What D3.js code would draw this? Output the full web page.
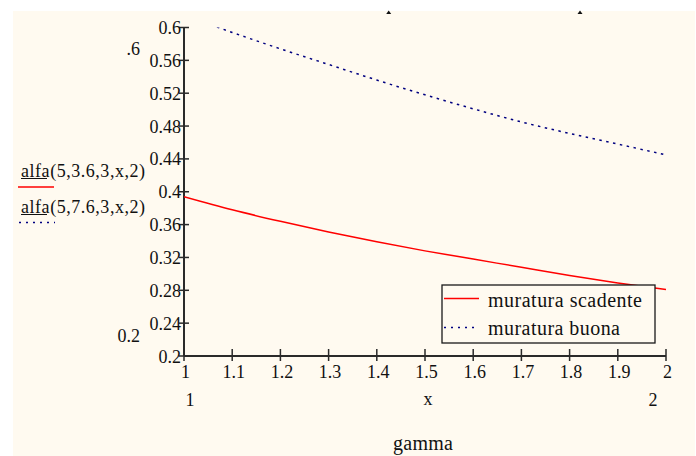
<!DOCTYPE html>
<html>
<head>
<meta charset="utf-8">
<script src="https://cdn.jsdelivr.net/npm/d3@7"></script>
<style>
  html, body { margin: 0; padding: 0; background: #ffffff; }
  svg { display: block; }
  text { font-family: "Liberation Serif", "Times New Roman", serif; fill: #111; }
</style>
</head>
<body>
<svg id="chart" width="696" height="456"></svg>
<script>
// ---- data ----
const gamma = [1.0, 1.1, 1.2, 1.3, 1.4, 1.5, 1.6, 1.7, 1.8, 1.9, 2.0];
const scadente = [0.394, 0.378, 0.364, 0.351, 0.339, 0.328, 0.318, 0.308, 0.298, 0.289, 0.281]; // alfa(5,3.6,3,x,2)
const buona    = [0.615, 0.594, 0.574, 0.555, 0.536, 0.518, 0.501, 0.485, 0.471, 0.458, 0.445]; // alfa(5,7.6,3,x,2)
const xTicks = [1, 1.1, 1.2, 1.3, 1.4, 1.5, 1.6, 1.7, 1.8, 1.9, 2];
const xTickLabels = ["1", "1.1", "1.2", "1.3", "1.4", "1.5", "1.6", "1.7", "1.8", "1.9", "2"];
const yTicks = [0.2, 0.24, 0.28, 0.32, 0.36, 0.4, 0.44, 0.48, 0.52, 0.56, 0.6];
const yTickLabels = ["0.2", "0.24", "0.28", "0.32", "0.36", "0.4", "0.44", "0.48", "0.52", "0.56", "0.6"];
const seriesNames = ["muratura scadente", "muratura buona"];
const traceNames = ["alfa(5,3.6,3,x,2)", "alfa(5,7.6,3,x,2)"];

const svg = d3.select("#chart");

// cream background
svg.append("rect").attr("x", 13).attr("y", 11).attr("width", 682).attr("height", 445)
  .attr("fill", "#fffaf0");

const x = d3.scaleLinear().domain([1, 2]).range([184, 666]);
const y = d3.scaleLinear().domain([0.2, 0.6]).range([356, 27.5]);

// clip
svg.append("clipPath").attr("id", "plotclip").append("rect")
  .attr("x", x(1)).attr("y", y(0.6)).attr("width", x(2) - x(1)).attr("height", y(0.2) - y(0.6));

// axes
const axisCol = "#2a2a2a";
// y axis
const yAx = svg.append("g").attr("transform", `translate(${x(1)},0)`);
yAx.append("line").attr("y1", y(0.6)).attr("y2", y(0.2)).attr("stroke", axisCol).attr("stroke-width", 2);
yAx.selectAll("line.t").data(yTicks).enter().append("line").attr("class", "t")
  .attr("x1", -5).attr("x2", 5).attr("y1", d => y(d)).attr("y2", d => y(d))
  .attr("stroke", axisCol).attr("stroke-width", 1.5);
yAx.selectAll("text").data(yTicks).enter().append("text")
  .attr("x", -3).attr("y", d => y(d) + 6.5)
  .attr("text-anchor", "end").attr("font-size", 18)
  .text((d, i) => yTickLabels[i]);

// x axis
const xAx = svg.append("g").attr("transform", `translate(0,${y(0.2)})`);
xAx.append("line").attr("x1", x(1)).attr("x2", x(2)).attr("stroke", axisCol).attr("stroke-width", 2);
xAx.selectAll("line.t").data(xTicks).enter().append("line").attr("class", "t")
  .attr("x1", d => x(d)).attr("x2", d => x(d)).attr("y1", -7).attr("y2", 5)
  .attr("stroke", axisCol).attr("stroke-width", 1.5);
xAx.selectAll("text").data(xTicks).enter().append("text")
  .attr("x", d => x(d) + 1.5).attr("y", 22)
  .attr("text-anchor", "middle").attr("font-size", 18)
  .text((d, i) => xTickLabels[i]);

// curves
const line = d3.line().x(d => x(d[0])).y(d => y(d[1])).curve(d3.curveMonotoneX);
const plot = svg.append("g").attr("clip-path", "url(#plotclip)");
plot.append("path").datum(gamma.map((g, i) => [g, scadente[i]]))
  .attr("d", line).attr("fill", "none").attr("stroke", "#ff0000").attr("stroke-width", 1.5);
plot.append("path").datum(gamma.map((g, i) => [g, buona[i]]))
  .attr("d", line).attr("fill", "none").attr("stroke", "#000080").attr("stroke-width", 1.5)
  .attr("stroke-dasharray", "2.5,4.5");

// range / axis annotations
svg.append("text").attr("x", 140).attr("y", 55).attr("text-anchor", "end").attr("font-size", 18).text(".6");
svg.append("text").attr("x", 140).attr("y", 342).attr("text-anchor", "end").attr("font-size", 18).text("0.2");
svg.append("text").attr("x", 190).attr("y", 406).attr("text-anchor", "middle").attr("font-size", 18).text("1");
svg.append("text").attr("x", 653).attr("y", 406).attr("text-anchor", "middle").attr("font-size", 18).text("2");
svg.append("text").attr("x", 428).attr("y", 405).attr("text-anchor", "middle").attr("font-size", 18).text("x");
svg.append("text").attr("x", 423).attr("y", 450).attr("text-anchor", "middle").attr("font-size", 20)
  .attr("textLength", 60).attr("lengthAdjust", "spacing").text("gamma");

// left trace labels
const traceY = [177, 213];
traceNames.forEach((t, i) => {
  svg.append("text").attr("x", 21).attr("y", traceY[i]).attr("font-size", 18)
    .attr("textLength", 124).attr("lengthAdjust", "spacing").text(t);
  svg.append("line").attr("x1", 21).attr("x2", 47).attr("y1", traceY[i] + 1.5).attr("y2", traceY[i] + 1.5)
    .attr("stroke", "#111").attr("stroke-width", 1);
});
svg.append("line").attr("x1", 18).attr("x2", 54).attr("y1", 187).attr("y2", 187)
  .attr("stroke", "#ff0000").attr("stroke-width", 1.5);
svg.append("line").attr("x1", 19).attr("x2", 55).attr("y1", 222.5).attr("y2", 222.5)
  .attr("stroke", "#000080").attr("stroke-width", 1.5).attr("stroke-dasharray", "2,5");

// top markers
[388.7, 580].forEach(px => {
  svg.append("path").attr("d", `M${px - 2.5},14 L${px + 2.5},14 L${px},10.5 Z`).attr("fill", "#111");
});

// legend box
const lg = svg.append("g");
lg.append("rect").attr("x", 442).attr("y", 285).attr("width", 213).attr("height", 58)
  .attr("fill", "#fffaf0").attr("stroke", "#1a1a1a").attr("stroke-width", 1.3);
lg.append("line").attr("x1", 444).attr("x2", 479).attr("y1", 298.5).attr("y2", 298.5)
  .attr("stroke", "#ff0000").attr("stroke-width", 1.5);
lg.append("line").attr("x1", 444).attr("x2", 479).attr("y1", 327.5).attr("y2", 327.5)
  .attr("stroke", "#000080").attr("stroke-width", 1.5).attr("stroke-dasharray", "2,5");
lg.append("text").attr("x", 488).attr("y", 306.5).attr("font-size", 20)
  .attr("textLength", 154).attr("lengthAdjust", "spacing").text(seriesNames[0]);
lg.append("text").attr("x", 488).attr("y", 335).attr("font-size", 20)
  .attr("textLength", 132).attr("lengthAdjust", "spacing").text(seriesNames[1]);
</script>
</body>
</html>
